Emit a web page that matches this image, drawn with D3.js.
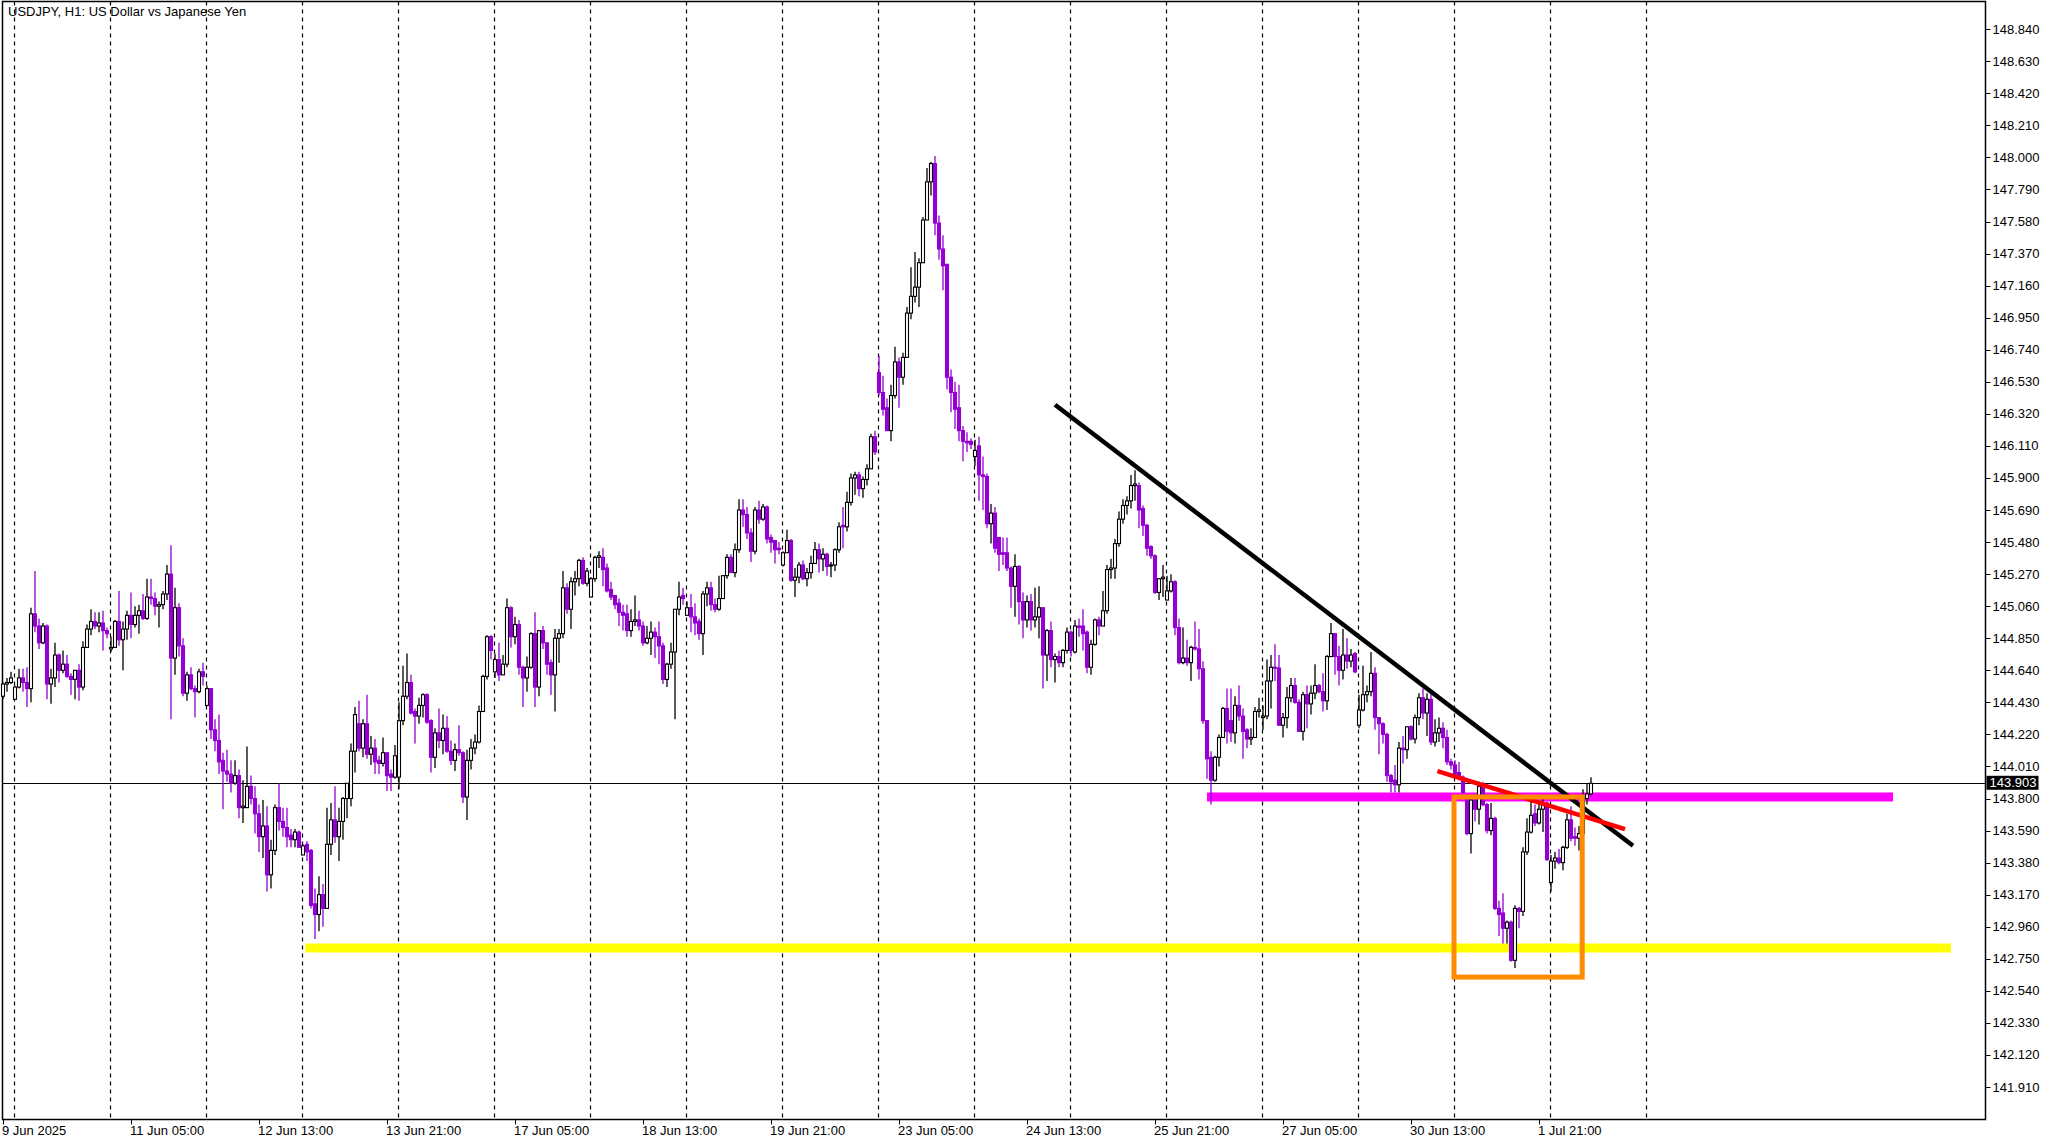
<!DOCTYPE html>
<html>
<head>
<meta charset="utf-8">
<script src="https://cdn.jsdelivr.net/npm/d3@7"></script>
<style>
  html, body { margin: 0; padding: 0; background: #fff; }
  svg { display: block; }
  text { font-family: "Liberation Sans", "DejaVu Sans", sans-serif; }
</style>
</head>
<body>
<div id="chart"></div>
<script>
// USDJPY H1 candles (bar 0 = first visible hour)
var opens = [
144.47,144.55,144.56,144.45,144.53,144.59,144.56,144.52,145.01,144.93,
144.82,144.93,144.55,144.59,144.74,144.64,144.68,144.60,144.58,144.64,
144.53,144.79,144.91,144.96,144.93,144.95,144.90,144.78,144.79,144.96,
144.84,144.91,145.00,144.94,145.00,145.03,144.98,145.12,145.11,145.06,
145.07,145.14,145.27,144.72,145.05,144.80,144.49,144.61,144.52,144.50,
144.63,144.41,144.52,144.25,144.18,144.05,143.98,143.96,143.90,143.95,
143.74,143.74,143.88,143.80,143.70,143.55,143.62,143.30,143.46,143.74,
143.65,143.61,143.56,143.53,143.58,143.43,143.50,143.46,143.11,143.04,
143.17,143.08,143.50,143.66,143.55,143.65,143.80,143.80,144.11,144.29,
144.13,144.29,144.09,144.13,144.05,144.03,144.10,143.96,143.94,143.94,
144.31,144.47,144.56,144.37,144.34,144.41,144.48,144.31,144.07,144.23,
144.18,144.26,144.11,144.05,144.12,144.10,143.81,144.05,144.13,144.17,
144.37,144.60,144.86,144.63,144.71,144.61,144.68,145.05,144.86,144.94,
144.66,144.59,144.66,144.88,144.53,144.90,144.82,144.69,144.61,144.85,
144.88,145.18,145.04,145.22,145.24,145.36,145.21,145.12,145.24,145.38,
145.38,145.31,145.17,145.13,145.08,145.02,145.01,144.90,144.96,144.97,
144.93,144.82,144.85,144.89,144.86,144.80,144.58,144.68,144.76,145.04,
145.13,145.00,145.05,144.99,144.96,144.88,145.14,145.18,145.07,145.04,
145.11,145.26,145.38,145.28,145.43,145.69,145.66,145.54,145.42,145.69,
145.63,145.71,145.51,145.49,145.44,145.33,145.41,145.49,145.23,145.25,
145.33,145.24,145.28,145.34,145.43,145.37,145.40,145.33,145.33,145.43,
145.59,145.58,145.74,145.90,145.92,145.83,145.89,145.96,146.17,146.59,
146.46,146.36,146.21,146.44,146.66,146.56,146.69,146.98,147.09,147.15,
147.31,147.59,147.84,147.96,147.57,147.40,147.30,146.56,146.46,146.36,
146.21,146.14,146.14,146.04,146.11,145.92,145.91,145.60,145.67,145.51,
145.41,145.41,145.31,145.19,145.32,145.09,144.97,145.09,144.97,144.99,
145.05,144.74,144.90,144.71,144.73,144.69,144.77,144.89,144.76,144.93,
144.93,144.89,144.66,144.81,144.97,144.93,145.03,145.30,145.31,145.47,
145.63,145.72,145.75,145.85,145.85,145.70,145.59,145.45,145.39,145.15,
145.24,145.10,145.16,145.22,144.92,144.69,144.72,144.69,144.79,144.78,
144.65,144.31,144.07,143.92,144.07,144.20,144.39,144.31,144.23,144.41,
144.34,144.25,144.19,144.20,144.37,144.33,144.34,144.57,144.66,144.655,
144.28,144.33,144.46,144.54,144.43,144.24,144.48,144.42,144.49,144.54,
144.50,144.44,144.73,144.88,144.73,144.64,144.74,144.70,144.75,144.28,
144.38,144.48,144.50,144.62,144.33,144.29,144.22,143.95,143.92,143.89,
144.13,144.12,144.27,144.19,144.33,144.46,144.36,144.45,144.17,144.23,
144.26,144.20,144.04,144.02,143.97,143.94,143.80,143.57,143.79,143.73,
143.88,143.76,143.59,143.67,143.08,143.05,142.95,142.99,142.74,143.08,
143.06,143.45,143.58,143.70,143.64,143.73,143.77,143.25,143.39,143.41,
143.38,143.48,143.66,143.55,143.54,143.57,143.80,143.83
];
var highs = [
144.56,144.59,144.63,144.54,144.65,144.65,144.66,145.05,145.29,144.98,
144.95,144.94,144.65,144.82,144.75,144.77,144.74,144.62,144.64,144.68,
144.83,144.94,145.04,145.02,145.02,145.03,144.92,144.86,144.97,145.16,
144.96,145.03,145.15,145.06,145.07,145.14,145.24,145.24,145.15,145.09,
145.16,145.33,145.46,145.18,145.08,144.85,144.63,144.66,144.54,144.65,
144.69,144.54,144.52,144.32,144.35,144.10,144.12,144.05,144.05,143.99,
143.92,144.14,143.95,143.88,143.76,143.79,143.75,143.53,143.76,143.90,
143.74,143.74,143.60,143.60,143.59,143.50,143.52,143.47,143.21,143.29,
143.24,143.74,143.77,143.88,143.74,143.81,143.90,144.16,144.40,144.44,
144.32,144.48,144.21,144.19,144.08,144.20,144.10,143.99,144.15,144.43,
144.67,144.75,144.61,144.39,144.46,144.49,144.49,144.32,144.26,144.39,
144.35,144.34,144.18,144.16,144.28,144.11,144.12,144.19,144.22,144.41,
144.61,144.87,144.87,144.75,144.82,144.74,145.11,145.06,144.99,144.97,
144.67,144.73,144.89,145.02,144.90,144.93,144.82,144.71,144.91,144.91,
145.29,145.21,145.25,145.29,145.37,145.38,145.31,145.25,145.39,145.42,
145.44,145.34,145.22,145.13,145.11,145.07,145.07,145.04,145.13,145.03,
144.96,144.93,144.96,144.92,144.96,144.82,144.69,144.82,145.04,145.22,
145.18,145.09,145.14,145.08,144.98,145.16,145.22,145.22,145.11,145.26,
145.26,145.40,145.40,145.47,145.76,145.76,145.71,145.57,145.71,145.75,
145.73,145.72,145.53,145.49,145.48,145.42,145.56,145.50,145.31,145.35,
145.36,145.31,145.39,145.48,145.47,145.44,145.41,145.35,145.44,145.61,
145.71,145.81,145.93,145.94,145.94,145.91,145.99,146.19,146.21,146.70,
146.57,146.42,146.51,146.76,146.69,146.72,147.02,147.28,147.38,147.34,
147.61,147.93,147.97,148.01,147.62,147.49,147.30,146.61,146.53,146.51,
146.24,146.20,146.16,146.15,146.17,146.04,145.93,145.73,145.71,145.51,
145.51,145.51,145.32,145.40,145.33,145.15,145.13,145.14,145.18,145.19,
145.05,144.91,144.96,144.75,144.77,144.78,144.92,144.90,144.97,144.98,
145.04,144.90,144.84,144.98,144.99,145.16,145.33,145.37,145.50,145.68,
145.76,145.78,145.92,145.95,145.87,145.72,145.60,145.46,145.40,145.24,
145.33,145.26,145.27,145.23,144.98,144.92,144.84,144.80,144.96,144.91,
144.70,144.31,144.11,144.08,144.22,144.40,144.52,144.52,144.47,144.54,
144.39,144.26,144.26,144.40,144.46,144.41,144.71,144.74,144.81,144.74,
144.36,144.53,144.59,144.59,144.45,144.50,144.54,144.54,144.68,144.55,
144.62,144.74,144.95,144.88,144.80,144.91,144.85,144.78,144.76,144.48,
144.67,144.54,144.76,144.66,144.33,144.30,144.23,143.96,144.02,144.17,
144.21,144.27,144.28,144.35,144.49,144.52,144.49,144.49,144.32,144.33,
144.30,144.25,144.06,144.05,144.04,143.95,143.82,143.82,143.82,143.91,
143.91,143.77,143.77,143.68,143.13,143.18,143.00,143.00,143.10,143.09,
143.48,143.67,143.80,143.76,143.77,143.80,143.78,143.43,143.45,143.47,
143.49,143.70,143.75,143.61,143.62,143.86,143.90,143.94
];
var lows = [
144.45,144.50,144.55,144.45,144.52,144.50,144.40,144.43,144.89,144.78,
144.81,144.45,144.42,144.53,144.56,144.62,144.59,144.48,144.45,144.44,
144.51,144.79,144.87,144.91,144.89,144.77,144.85,144.76,144.79,144.80,
144.64,144.84,144.85,144.92,144.88,144.97,144.97,145.07,145.00,144.92,
145.04,145.10,144.32,144.61,144.73,144.47,144.44,144.51,144.33,144.49,
144.54,144.41,144.19,144.11,143.96,143.73,143.91,143.84,143.89,143.67,
143.64,143.74,143.76,143.57,143.45,143.41,143.19,143.21,143.43,143.59,
143.55,143.48,143.48,143.48,143.48,143.43,143.39,143.08,142.88,142.93,
142.96,143.08,143.43,143.51,143.39,143.53,143.67,143.75,143.97,144.11,
144.07,144.06,144.02,143.96,143.96,144.01,143.85,143.85,143.93,143.86,
144.28,144.45,144.35,144.16,144.29,144.33,144.29,143.97,144.00,144.13,
144.09,144.10,144.02,143.98,144.08,143.77,143.66,143.99,144.09,144.16,
144.37,144.58,144.71,144.59,144.57,144.61,144.66,144.79,144.81,144.61,
144.40,144.50,144.65,144.40,144.47,144.78,144.61,144.48,144.37,144.69,
144.85,145.01,144.91,145.13,145.19,145.20,145.19,145.12,145.22,145.31,
145.19,145.15,145.10,145.04,144.93,144.90,144.86,144.86,144.93,144.90,
144.80,144.81,144.74,144.72,144.68,144.55,144.53,144.65,144.32,145.00,
145.07,145.00,144.89,144.87,144.84,144.74,145.06,145.03,145.02,145.03,
145.11,145.24,145.28,145.25,145.41,145.58,145.50,145.35,145.40,145.60,
145.62,145.47,145.41,145.34,145.40,145.32,145.41,145.22,145.12,145.21,
145.23,145.19,145.24,145.34,145.28,145.29,145.26,145.25,145.29,145.41,
145.44,145.55,145.72,145.79,145.78,145.77,145.85,145.96,146.05,146.44,
146.31,146.21,146.14,146.42,146.36,146.51,146.69,146.94,147.05,147.02,
147.31,147.59,147.75,147.49,147.33,147.13,146.48,146.33,146.22,146.14,
146.01,146.07,146.09,145.98,145.75,145.69,145.57,145.47,145.41,145.29,
145.33,145.29,145.05,144.99,144.94,144.85,144.92,144.90,144.92,144.85,
144.52,144.57,144.66,144.56,144.66,144.66,144.75,144.73,144.75,144.86,
144.77,144.62,144.61,144.80,144.87,144.93,145.01,145.24,145.24,145.45,
145.60,145.66,145.70,145.75,145.57,145.52,145.39,145.37,145.14,145.10,
145.12,145.10,145.15,144.87,144.68,144.68,144.67,144.57,144.77,144.58,
144.29,143.93,143.76,143.91,144.01,144.20,144.16,144.17,144.16,144.31,
144.06,144.13,144.15,144.20,144.33,144.25,144.32,144.39,144.57,144.28,
144.20,144.26,144.43,144.42,144.24,144.18,144.26,144.35,144.45,144.49,
144.37,144.38,144.73,144.61,144.54,144.58,144.65,144.66,144.62,144.26,
144.37,144.43,144.47,144.25,144.09,144.16,143.91,143.84,143.84,143.84,
144.03,144.06,144.18,144.16,144.28,144.32,144.21,144.15,144.14,144.17,
144.13,144.02,143.99,143.93,143.92,143.82,143.56,143.44,143.65,143.63,
143.75,143.57,143.56,143.07,142.90,142.85,142.85,142.73,142.69,142.95,
143.03,143.43,143.57,143.62,143.63,143.58,143.39,143.19,143.34,143.37,
143.33,143.47,143.52,143.49,143.46,143.56,143.76,143.82
];
var closes = [
144.55,144.56,144.59,144.53,144.59,144.56,144.52,145.01,144.93,144.82,
144.93,144.55,144.59,144.74,144.64,144.68,144.60,144.58,144.64,144.53,
144.79,144.91,144.96,144.93,144.95,144.90,144.88,144.79,144.96,144.84,
144.91,145.00,144.94,145.00,145.03,144.98,145.12,145.11,145.06,145.07,
145.14,145.27,144.72,145.05,144.80,144.49,144.61,144.52,144.50,144.63,
144.60,144.52,144.25,144.18,144.04,143.98,143.96,143.90,143.95,143.74,
143.75,143.88,143.80,143.70,143.55,143.62,143.30,143.46,143.74,143.65,
143.61,143.55,143.53,143.58,143.48,143.49,143.45,143.10,143.04,143.17,
143.08,143.50,143.66,143.55,143.65,143.80,143.90,144.11,144.35,144.13,
144.29,144.09,144.13,144.04,144.03,144.10,143.95,143.94,144.08,144.31,
144.47,144.56,144.36,144.34,144.41,144.48,144.30,144.07,144.23,144.18,
144.26,144.11,144.05,144.12,144.10,143.81,144.05,144.13,144.17,144.37,
144.60,144.86,144.77,144.71,144.61,144.68,145.05,144.86,144.94,144.66,
144.59,144.66,144.88,144.53,144.90,144.82,144.68,144.61,144.85,144.88,
145.18,145.04,145.22,145.24,145.36,145.21,145.29,145.24,145.38,145.39,
145.30,145.16,145.12,145.07,145.02,145.00,144.90,144.96,144.97,144.93,
144.82,144.85,144.89,144.86,144.80,144.58,144.68,144.76,145.04,145.12,
145.11,145.05,144.99,144.95,144.88,145.14,145.18,145.07,145.04,145.11,
145.26,145.38,145.28,145.43,145.69,145.66,145.54,145.42,145.69,145.63,
145.71,145.50,145.48,145.43,145.43,145.41,145.49,145.23,145.25,145.33,
145.24,145.28,145.34,145.43,145.37,145.40,145.32,145.33,145.43,145.58,
145.58,145.74,145.90,145.92,145.83,145.89,145.96,146.17,146.07,146.46,
146.35,146.21,146.44,146.66,146.56,146.69,146.98,147.09,147.15,147.31,
147.59,147.84,147.96,147.57,147.40,147.29,146.56,146.46,146.35,146.21,
146.14,146.13,146.12,146.08,145.92,145.91,145.60,145.67,145.44,145.40,
145.40,145.31,145.19,145.32,145.09,144.97,145.09,144.97,144.99,145.05,
144.74,144.90,144.71,144.73,144.69,144.77,144.89,144.77,144.93,144.92,
144.88,144.66,144.81,144.97,144.93,145.03,145.30,145.31,145.47,145.63,
145.72,145.75,145.85,145.86,145.69,145.59,145.44,145.39,145.15,145.24,
145.25,145.16,145.22,144.92,144.69,144.72,144.69,144.79,144.78,144.65,
144.31,144.06,143.92,144.07,144.20,144.39,144.24,144.23,144.41,144.34,
144.24,144.19,144.20,144.37,144.38,144.34,144.57,144.66,144.655,144.28,
144.33,144.46,144.54,144.43,144.24,144.48,144.42,144.49,144.54,144.50,
144.44,144.73,144.88,144.73,144.64,144.74,144.70,144.74,144.63,144.38,
144.48,144.50,144.62,144.33,144.29,144.22,143.95,143.91,143.89,144.13,
144.12,144.27,144.19,144.33,144.46,144.36,144.45,144.17,144.23,144.26,
144.20,144.04,144.02,143.96,143.94,143.84,143.57,143.79,143.73,143.88,
143.76,143.59,143.67,143.08,143.04,142.95,142.99,142.74,143.08,143.06,
143.45,143.58,143.69,143.64,143.73,143.77,143.40,143.39,143.41,143.38,
143.48,143.66,143.54,143.54,143.57,143.80,143.83,143.90
];

var priceTicks = ["148.840","148.630","148.420","148.210","148.000","147.790","147.580","147.370",
  "147.160","146.950","146.740","146.530","146.320","146.110","145.900","145.690","145.480",
  "145.270","145.060","144.850","144.640","144.430","144.220","144.010","143.800","143.590",
  "143.380","143.170","142.960","142.750","142.540","142.330","142.120","141.910"];
var timeLabels = ["9 Jun 2025","11 Jun 05:00","12 Jun 13:00","13 Jun 21:00","17 Jun 05:00",
  "18 Jun 13:00","19 Jun 21:00","23 Jun 05:00","24 Jun 13:00","25 Jun 21:00","27 Jun 05:00",
  "30 Jun 13:00","1 Jul 21:00"];
var timeLabelBars = [0,32,64,96,128,160,192,224,256,288,320,352,384];
var gridBars = [3,27,51,75,99,123,147,171,195,219,243,267,291,315,339,363,387,411];

var lastPrice = 143.903;
var title = "USDJPY, H1:  US Dollar vs Japanese Yen";

// drawn objects: [bar, price] end points
var trendLine = [[263, 146.38], [407.5, 143.49]];
var redLine = [[358.6, 143.98], [405.5, 143.60]];
var magentaLevel = {from: 301, to: 472.5, price: 143.81};
var yellowLevel = {from: 75.6, to: 487, price: 142.82};
var orangeBox = {from: 362.75, to: 394.8, top: 143.81, bottom: 142.63};

var W = 2055, H = 1143;
var plotLeft = 2.5, plotRight = 1985.5, plotTop = 1.5, plotBottom = 1119.5;

var svg = d3.select("#chart").append("svg")
    .attr("width", W).attr("height", H);

var x = d3.scaleLinear().domain([0, 1]).range([3, 7]);
var y = d3.scaleLinear().domain([141.91, 148.84]).range([1087, 29.2]);

var bull = "#000000", bear = "#9400d3";

// grid
svg.append("g").selectAll("line")
    .data(gridBars).enter().append("line")
    .attr("x1", d => Math.round(x(d) - 1) + 0.5)
    .attr("x2", d => Math.round(x(d) - 1) + 0.5)
    .attr("y1", plotTop).attr("y2", plotBottom)
    .attr("stroke", "#000").attr("stroke-width", 1.2)
    .attr("stroke-dasharray", "4,4");

// frame
svg.append("rect")
    .attr("x", plotLeft).attr("y", plotTop)
    .attr("width", plotRight - plotLeft).attr("height", plotBottom - plotTop)
    .attr("fill", "none").attr("stroke", "#000").attr("stroke-width", 1.5);

// title
svg.append("text").attr("x", 8).attr("y", 16)
    .attr("font-size", 13).attr("fill", "#000").text(title);

// yellow + magenta levels
[[yellowLevel, "#ffff00"], [magentaLevel, "#ff00ff"]].forEach(function (p) {
    svg.append("line")
        .attr("x1", x(p[0].from)).attr("x2", x(p[0].to))
        .attr("y1", y(p[0].price)).attr("y2", y(p[0].price))
        .attr("stroke", p[1]).attr("stroke-width", 9);
});

// current price line
svg.append("line")
    .attr("x1", plotLeft).attr("x2", plotRight)
    .attr("y1", Math.round(y(lastPrice)) + 0.5).attr("y2", Math.round(y(lastPrice)) + 0.5)
    .attr("stroke", "#000").attr("stroke-width", 1.2);

// candles
var idx = d3.range(closes.length);
var g = svg.append("g");
g.selectAll("line.wick").data(idx).enter().append("line")
    .attr("class", "wick")
    .attr("x1", i => x(i)).attr("x2", i => x(i))
    .attr("y1", i => y(highs[i])).attr("y2", i => y(lows[i]))
    .attr("stroke", i => closes[i] >= opens[i] ? bull : bear)
    .attr("stroke-width", 1.3);
g.selectAll("rect.body").data(idx).enter().append("rect")
    .attr("class", "body")
    .attr("x", i => x(i) - 1.5)
    .attr("width", 3)
    .attr("y", i => y(Math.max(opens[i], closes[i])))
    .attr("height", i => Math.max(1, Math.abs(y(opens[i]) - y(closes[i]))))
    .attr("fill", i => closes[i] >= opens[i] ? "#fff" : bear)
    .attr("stroke", i => closes[i] >= opens[i] ? bull : bear)
    .attr("stroke-width", 1.1);

// black trendline and red line
svg.append("line")
    .attr("x1", x(trendLine[0][0])).attr("y1", y(trendLine[0][1]))
    .attr("x2", x(trendLine[1][0])).attr("y2", y(trendLine[1][1]))
    .attr("stroke", "#000").attr("stroke-width", 4.5);
svg.append("line")
    .attr("x1", x(redLine[0][0])).attr("y1", y(redLine[0][1]))
    .attr("x2", x(redLine[1][0])).attr("y2", y(redLine[1][1]))
    .attr("stroke", "#ff0000").attr("stroke-width", 4.5);

// orange box
svg.append("rect")
    .attr("x", x(orangeBox.from)).attr("y", y(orangeBox.top))
    .attr("width", x(orangeBox.to) - x(orangeBox.from))
    .attr("height", y(orangeBox.bottom) - y(orangeBox.top))
    .attr("fill", "none").attr("stroke", "#ff8c00").attr("stroke-width", 5);

// price axis
var ya = svg.append("g").attr("font-size", 13);
ya.selectAll("line").data(priceTicks).enter().append("line")
    .attr("x1", plotRight).attr("x2", plotRight + 5)
    .attr("y1", d => Math.round(y(+d)) + 0.5).attr("y2", d => Math.round(y(+d)) + 0.5)
    .attr("stroke", "#000");
ya.selectAll("text").data(priceTicks).enter().append("text")
    .attr("x", plotRight + 7).attr("y", d => y(+d) + 4.5)
    .text(d => d);

// last price tag
svg.append("rect").attr("x", plotRight + 1).attr("y", y(lastPrice) - 7)
    .attr("width", 52).attr("height", 14).attr("fill", "#000");
svg.append("text").attr("x", plotRight + 4).attr("y", y(lastPrice) + 4.5)
    .attr("font-size", 13).attr("fill", "#fff").text(lastPrice.toFixed(3));

// time axis
var xa = svg.append("g").attr("font-size", 13);
xa.selectAll("line").data(timeLabelBars).enter().append("line")
    .attr("x1", d => x(d) + 0.5).attr("x2", d => x(d) + 0.5)
    .attr("y1", plotBottom).attr("y2", plotBottom + 5)
    .attr("stroke", "#000");
xa.selectAll("text").data(timeLabelBars).enter().append("text")
    .attr("x", (d, i) => i === 0 ? 2 : x(d) - 1)
    .attr("y", plotBottom + 15)
    .text((d, i) => timeLabels[i]);
</script>
</body>
</html>
